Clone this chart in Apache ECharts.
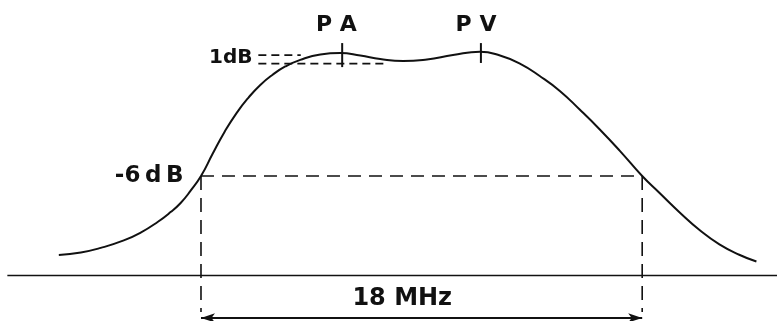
<!DOCTYPE html>
<html>
<head>
<meta charset="utf-8">
<script src="https://cdn.jsdelivr.net/npm/echarts@6/dist/echarts.min.js"></script>
<style>
  html, body { margin: 0; padding: 0; background: #fff; }
  #chart { width: 777px; height: 321px; }
</style>
</head>
<body>
<div id="chart"></div>
<script>
// Passband response: frequency offset from band centre (MHz) and relative level (dB)
const freqMHz = [-14.8, -13.9, -13.09, -12.15, -11.46, -10.77, -10.24, -9.83, -9.43, -9.0, -8.53, -8.04, -7.55,
                 -7.06, -6.58, -6.09, -5.56, -4.95, -4.13, -3.32, -2.5, -1.69, -0.75, 0.22, 1.28, 2.38, 3.2,
                 4.01, 4.82, 5.64, 6.45, 7.27, 8.08, 9.0, 9.71, 10.53, 11.34, 12.15, 12.96, 13.66];
const levelDb = [-9.81, -9.69, -9.47, -9.11, -8.73, -8.22, -7.74, -7.3, -6.72, -6.0, -4.94, -3.87, -2.96,
                 -2.21, -1.6, -1.12, -0.71, -0.39, -0.13, -0.06, -0.18, -0.35, -0.45, -0.37, -0.16, 0.0, -0.18,
                 -0.57, -1.17, -1.89, -2.79, -3.75, -4.77, -6.0, -6.82, -7.76, -8.61, -9.3, -9.8, -10.13];

// Annotation values
const bandwidthMHz = 18;
const cutoffDb = -6;
const rippleTopDb = -0.16;
const rippleBottomDb = -0.57;
const peakA = -3.24;   // PA
const peakV = 2.42;    // PV
const baseLevel = -10.8;

const curve = freqMHz.map((f, i) => [f, levelDb[i]]);
const half = bandwidthMHz / 2;
const ink = '#111';
const font = '"DejaVu Sans", sans-serif';

function seg(points, dashed, width, dash) {
  return {
    type: 'line', data: points, symbol: 'none', silent: true, animation: false,
    lineStyle: { color: ink, width: width || 1.5, type: dashed ? (dash || [13, 8]) : 'solid' }
  };
}
function text(pt, str, size, align) {
  return {
    type: 'scatter', data: [pt], symbolSize: 0, silent: true, animation: false,
    itemStyle: { opacity: 1 },
    label: { show: true, position: 'inside', formatter: str, color: ink, opacity: 1, fontFamily: font,
             fontWeight: 'bold', fontSize: size, align: align || 'center', verticalAlign: 'middle' }
  };
}

const chart = echarts.init(document.getElementById('chart'), null, { renderer: 'canvas' });
chart.setOption({
  animation: false,
  backgroundColor: '#fff',
  grid: { left: 0, right: 0, top: 0, bottom: 0 },
  xAxis: { type: 'value', min: -17.2, max: 14.5, show: false },
  yAxis: { type: 'value', min: -13, max: 2.5, show: false },
  series: [
    // response curve
    {
      type: 'line', data: curve, smooth: 0.5, symbol: 'none', silent: true,
      lineStyle: { color: ink, width: 2 },
      markLine: {
        silent: true, symbol: ['arrow', 'arrow'], symbolSize: [7, 14],
        lineStyle: { color: ink, width: 2, type: 'solid' }, label: { show: false },
        data: [[{ coord: [-half, -12.85] }, { coord: [half, -12.85] }]]
      }
    },
    // base line
    seg([[-16.9, baseLevel], [14.5, baseLevel]], false, 1.6),
    // -6 dB level and bandwidth edges
    seg([[-half, cutoffDb], [half, cutoffDb]], true, 1.6),
    seg([[-half, cutoffDb], [-half, -12.56]], true, 1.6, [14, 8]),
    seg([[half, cutoffDb], [half, -12.56]], true, 1.6, [14, 8]),
    // 1 dB ripple marks
    seg([[-6.66, rippleTopDb], [-4.93, rippleTopDb]], true, 1.6, [8, 5]),
    seg([[-6.66, rippleBottomDb], [-1.49, rippleBottomDb]], true, 1.6, [8, 5]),
    // peak ticks
    seg([[peakA, 0.42], [peakA, -0.74]], false, 2),
    seg([[peakV, 0.42], [peakV, -0.54]], false, 2),
    // labels
    text([-3.48, 1.29], 'P A', 22),
    text([2.22, 1.29], 'P V', 22),
    text([-6.9, -0.3], '1dB', 20, 'right'),
    text([-9.71, cutoffDb], '-6\u2009d\u2009B', 23, 'right'),
    text([-0.79, -11.94], '18 MHz', 24)
  ]
});
</script>
</body>
</html>
